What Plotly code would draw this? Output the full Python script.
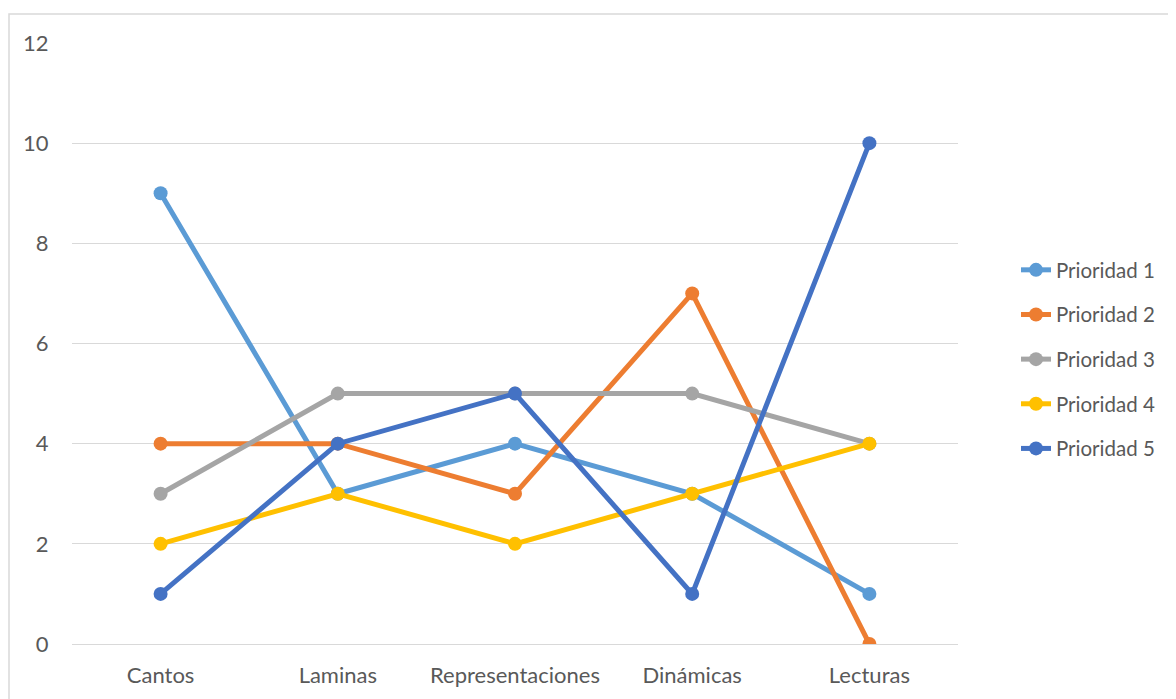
import plotly.graph_objects as go

categories = ["Cantos", "Laminas", "Representaciones", "Dinámicas", "Lecturas"]
series_names = ["Prioridad 1", "Prioridad 2", "Prioridad 3", "Prioridad 4", "Prioridad 5"]
p1 = [9, 3, 4, 3, 1]
p2 = [4, 4, 3, 7, 0]
p3 = [3, 5, 5, 5, 4]
p4 = [2, 3, 2, 3, 4]
p5 = [1, 4, 5, 1, 10]
colors = ["#5B9BD5", "#ED7D31", "#A5A5A5", "#FFC000", "#4472C4"]
y_ticks = [0, 2, 4, 6, 8, 10, 12]

values = [p1, p2, p3, p4, p5]

fig = go.Figure()
for name, vals, col in zip(series_names, values, colors):
    fig.add_trace(go.Scatter(
        x=categories, y=vals, name=name, mode="lines+markers",
        line=dict(color=col, width=5),
        marker=dict(color=col, size=14),
        legendgroup=name,
    ))

# page has an 8px body margin; figure is sized to fit the window
W, H = 1168, 691
L, T = 64, 35
R = W - 950
B = H - 636
pw, ph = W - L - R, H - T - B

def px_x(px):
    return (px - L) / pw

def px_y(py):
    return (H - B - py) / ph

FONT = "Lato, Open Sans, Liberation Sans, sans-serif"
FS = 22
LFS = 20.5
fig.update_layout(
    width=W, height=H,
    margin=dict(l=L, r=R, t=T, b=B),
    paper_bgcolor="white", plot_bgcolor="white",
    font=dict(family=FONT, size=FS, color="#595959"),
    showlegend=True,
    legend=dict(x=px_x(1008), y=px_y(242), xanchor="left", yanchor="top",
                tracegroupgap=15, font=dict(family=FONT, size=LFS, color="#595959"),
                itemwidth=30),
    xaxis=dict(type="category", range=[-0.5, 4.5], showgrid=False, zeroline=False,
               showline=False, ticks="", tickfont=dict(size=FS, color="#595959"),
               fixedrange=True),
    yaxis=dict(range=[0, 12], tickvals=y_ticks, showgrid=True, gridcolor="#D9D9D9",
               gridwidth=1, zeroline=True, zerolinecolor="#D9D9D9", zerolinewidth=1,
               showline=False, ticks="outside",
               ticklen=18, tickcolor="rgba(0,0,0,0)",
               tickfont=dict(size=FS, color="#595959")),
    shapes=[dict(type="rect", xref="paper", yref="paper",
                 x0=px_x(1), x1=px_x(1200), y0=px_y(720), y1=px_y(6),
                 line=dict(color="#D9D9D9", width=1.5), fillcolor="rgba(0,0,0,0)",
                 layer="below")],
)
fig.update_xaxes(ticklabelstandoff=16)

fig.write_html("out.html")
